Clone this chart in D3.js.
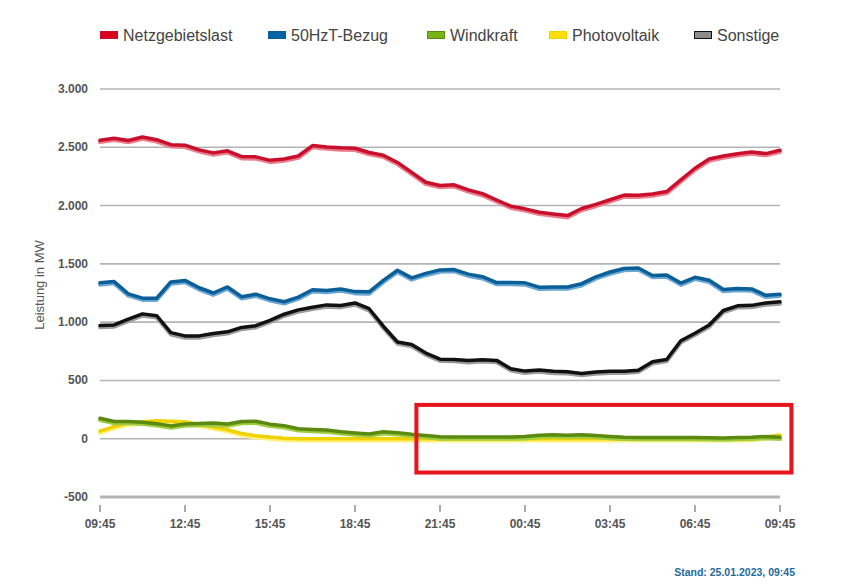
<!DOCTYPE html>
<html>
<head>
<meta charset="utf-8">
<script src="https://cdn.jsdelivr.net/npm/d3@7"></script>
<style>
  body { margin: 0; background: #fff; }
  svg { display: block; font-family: "Liberation Sans", Arial, sans-serif; }
</style>
</head>
<body>
<svg id="chart" width="851" height="584"></svg>
<script>
// half-hourly readings, 24.01.2023 09:45 -> 25.01.2023 09:45 (MW)
var startTime = "2023-01-24T09:45";
var stepMinutes = 30;

var netzgebietslast = [2560, 2578, 2558, 2588, 2565, 2522, 2518, 2478, 2452, 2470,
  2420, 2418, 2388, 2400, 2425, 2515, 2502, 2495, 2492, 2455,
  2432, 2370, 2285, 2200, 2172, 2178, 2135, 2102, 2048, 1995,
  1972, 1943, 1928, 1914, 1975, 2010, 2050, 2090, 2088, 2100,
  2120, 2220, 2320, 2400, 2425, 2445, 2460, 2446, 2475];

var bezug50Hz = [1337, 1348, 1243, 1206, 1205, 1345, 1358, 1295, 1250, 1302,
  1218, 1240, 1200, 1175, 1215, 1278, 1272, 1285, 1262, 1260,
  1358, 1445, 1380, 1418, 1448, 1451, 1412, 1390, 1340, 1340,
  1337, 1300, 1302, 1302, 1330, 1388, 1430, 1460, 1465, 1400,
  1405, 1335, 1385, 1360, 1280, 1288, 1285, 1230, 1240];

var windkraft = [175, 148, 148, 142, 128, 110, 126, 130, 134, 126,
  148, 150, 125, 112, 86, 80, 74, 60, 49, 40,
  60, 52, 38, 27, 16, 15, 15, 15, 15, 15,
  18, 30, 34, 30, 34, 28, 20, 12, 10, 10,
  10, 10, 10, 9, 6, 10, 12, 20, 12];

var photovoltaik = [65, 104, 134, 145, 154, 150, 145, 125, 100, 77,
  45, 26, 14, 5, 0, 0, 0, 0, 0, 0,
  0, 0, 0, 0, 0, 0, 0, 0, 0, 0,
  0, 0, 0, 0, 0, 0, 0, 0, 0, 0,
  0, 0, 0, 0, 0, 0, 0, 15, 32];

var sonstige = [971, 976, 1025, 1071, 1055, 910, 882, 882, 903, 917,
  955, 970, 1015, 1068, 1105, 1128, 1148, 1142, 1165, 1115,
  965, 830, 808, 735, 682, 679, 670, 678, 672, 600,
  580, 590, 578, 574, 560, 572, 579, 579, 588, 660,
  680, 840, 905, 975, 1100, 1140, 1144, 1165, 1174];

var seriesNames = ["Netzgebietslast", "50HzT-Bezug", "Windkraft", "Photovoltaik", "Sonstige"];
var yTicks = [-500, 0, 500, 1000, 1500, 2000, 2500, 3000];
var xTickLabels = ["09:45", "12:45", "15:45", "18:45", "21:45", "00:45", "03:45", "06:45", "09:45"];

var svg = d3.select("#chart");

var parse = d3.timeParse("%Y-%m-%dT%H:%M");
var t0 = parse(startTime);
var times = netzgebietslast.map(function(d, i) { return d3.timeMinute.offset(t0, i * stepMinutes); });

var x = d3.scaleTime()
    .domain([times[0], times[times.length - 1]])
    .range([100, 780]);

var y = d3.scaleLinear()
    .domain([-500, 3000])
    .range([497, 89]);

var de = d3.formatLocale({decimal: ",", thousands: ".", grouping: [3], currency: ["", " €"], minus: "-"});
var fmt = de.format(",d");

// grid
svg.append("g").selectAll("line")
    .data(yTicks)
    .enter().append("line")
    .attr("x1", 100).attr("x2", 780)
    .attr("y1", function(d) { return y(d); })
    .attr("y2", function(d) { return y(d); })
    .style("stroke", "#b4b4b4")
    .style("stroke-width", function(d) { return d === -500 ? 3 : 1.6; });

// y labels
svg.append("g").selectAll("text")
    .data(yTicks)
    .enter().append("text")
    .attr("x", 88)
    .attr("y", function(d) { return y(d) + 4; })
    .attr("text-anchor", "end")
    .style("font-size", "12px")
    .style("font-weight", "bold")
    .style("fill", "#555")
    .text(function(d) { return fmt(d); });

svg.append("text")
    .attr("transform", "translate(44,285) rotate(-90)")
    .attr("text-anchor", "middle")
    .style("font-size", "13px")
    .style("fill", "#555")
    .text("Leistung in MW");

// x ticks
var tickTimes = xTickLabels.map(function(d, i) { return d3.timeHour.offset(t0, i * 3); });
var xg = svg.append("g");
xg.selectAll("line")
    .data(tickTimes)
    .enter().append("line")
    .attr("x1", function(d) { return x(d); })
    .attr("x2", function(d) { return x(d); })
    .attr("y1", 505).attr("y2", 512)
    .style("stroke", "#aaa")
    .style("stroke-width", 2);
xg.selectAll("text")
    .data(tickTimes)
    .enter().append("text")
    .attr("x", function(d) { return x(d); })
    .attr("y", 528)
    .attr("text-anchor", "middle")
    .style("font-size", "12px")
    .style("font-weight", "bold")
    .style("fill", "#555")
    .text(function(d, i) { return xTickLabels[i]; });

// lines: drawn back to front
var styles = {
  "Netzgebietslast": {main: "#c90f2b", shade: "#ea7e8e", key: "#d9001b"},
  "50HzT-Bezug":     {main: "#0a5f98", shade: "#6ba7d2", key: "#0064a6"},
  "Windkraft":       {main: "#5a8a10", shade: "#9fcc40", key: "#7ab317"},
  "Photovoltaik":    {main: "#efd200", shade: "#fff07a", key: "#ffe000"},
  "Sonstige":        {main: "#111111", shade: "#9c9c9c", key: "#8c8c8c"}
};
var seriesData = {
  "Netzgebietslast": netzgebietslast,
  "50HzT-Bezug": bezug50Hz,
  "Windkraft": windkraft,
  "Photovoltaik": photovoltaik,
  "Sonstige": sonstige
};

var line = d3.line()
    .x(function(d, i) { return x(times[i]); })
    .y(function(d) { return y(d); });

var drawOrder = seriesNames.slice().reverse();
drawOrder.forEach(function(name) {
  var g = svg.append("g");
  g.append("path")
      .attr("d", line(seriesData[name]))
      .attr("transform", "translate(0,1.8)")
      .style("fill", "none")
      .style("stroke", styles[name].shade)
      .style("stroke-width", 4)
      .style("stroke-linejoin", "round")
      .style("stroke-linecap", "round");
  g.append("path")
      .attr("d", line(seriesData[name]))
      .style("fill", "none")
      .style("stroke", styles[name].main)
      .style("stroke-width", 3.5)
      .style("stroke-linejoin", "round")
      .style("stroke-linecap", "round");
});

// legend
var legendX = [100, 268, 427, 549, 694];
var legend = svg.append("g").selectAll("g")
    .data(seriesNames)
    .enter().append("g")
    .attr("transform", function(d, i) { return "translate(" + legendX[i] + ",35)"; });
legend.append("rect")
    .attr("x", 0.5).attr("y", -3.5)
    .attr("width", 17).attr("height", 7)
    .style("fill", function(d) { return styles[d].key; })
    .style("stroke", function(d) { return styles[d].main; })
    .style("stroke-width", 1);
legend.append("text")
    .attr("x", 23)
    .attr("y", 6)
    .style("font-size", "16px")
    .style("fill", "#444")
    .text(function(d) { return d; });

// stand
svg.append("text")
    .attr("x", 795)
    .attr("y", 576)
    .attr("text-anchor", "end")
    .style("font-size", "10.5px")
    .style("font-weight", "bold")
    .style("fill", "#1f6aa0")
    .text("Stand: 25.01.2023, 09:45");

// highlight box around the quiet night hours
svg.append("rect")
    .attr("x", x(d3.timeMinute.offset(t0, 11 * 60 + 10)))
    .attr("y", y(290))
    .attr("width", 375)
    .attr("height", y(-290) - y(290))
    .style("fill", "none")
    .style("stroke", "#e8141c")
    .style("stroke-width", 4);
</script>
</body>
</html>
